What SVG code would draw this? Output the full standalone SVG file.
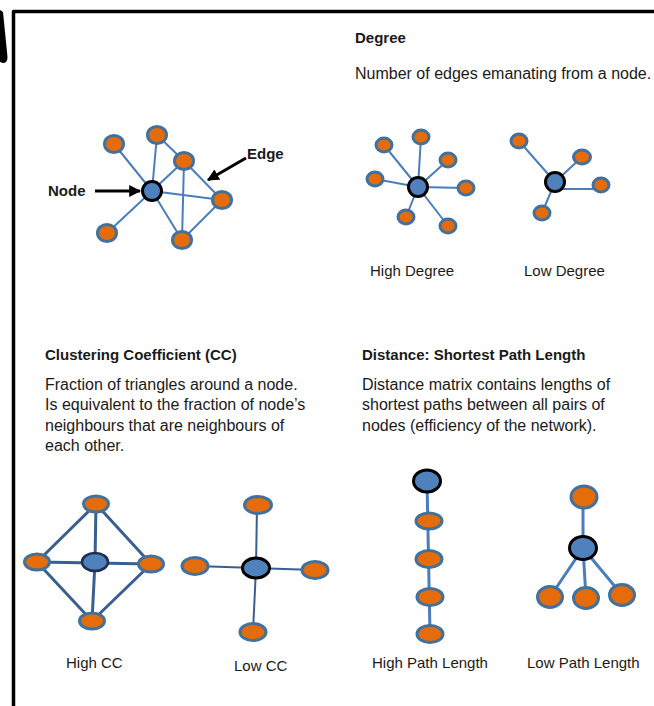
<svg xmlns="http://www.w3.org/2000/svg" width="654" height="706" viewBox="0 0 654 706">
<style>
text{font-family:"Liberation Sans",Arial,sans-serif;font-size:15px;fill:#1a1a1a}
.b{font-weight:bold}
.t{font-size:16px}
.e{stroke:#4a7ebb;stroke-width:2;fill:none}
.ed{stroke:#3a5f8f;stroke-width:3;fill:none}
.et{stroke:#3a5f8f;stroke-width:2;fill:none}
.o{fill:#e46c0a;stroke:#41719c;stroke-width:3}
.c{fill:#4f81bd;stroke:#000;stroke-width:3}
.cd{fill:#4f81bd;stroke:#1f2f4f;stroke-width:2.5}
.arr{stroke:#000;stroke-width:3;fill:none}
</style>
<defs>
<marker id="ah" viewBox="0 0 10 10" refX="9" refY="5" markerUnits="userSpaceOnUse" markerWidth="12" markerHeight="12" orient="auto">
<path d="M0,0 L10,5 L0,10 Z" fill="#000"/>
</marker>
</defs>
<rect width="654" height="706" fill="#fff"/>
<g id="frame">
<path d="M13.5,706 V11.5 H654" fill="none" stroke="#000" stroke-width="3.5" stroke-linejoin="round"/>
<path d="M0,10 L3,12 L7.5,57 Q7.5,63 3,63 L0,62 Z" fill="#000"/>
</g>
<g id="connectors">
<path class="e" d="M152,191 L114,144 M152,191 L157,135 M152,191 L184,161 M152,191 L222,200 M152,191 L182,240 M152,191 L107,233 M157,135 L184,161 M184,161 L222,200 M184,161 L182,240 M222,200 L182,240"/>
<line class="arr" x1="95" y1="191" x2="140" y2="191" marker-end="url(#ah)"/>
<line class="arr" x1="246" y1="158" x2="208" y2="180" marker-end="url(#ah)"/>
<path class="e" d="M418,187 L384,145 M418,187 L421,137 M418,187 L448,160 M418,187 L466,188 M418,187 L448,226 M418,187 L406,217 M418,187 L375,179"/>
<path class="e" d="M555,182 L519,141 M555,182 L582,157 M557,189 L601,189 M555,182 L542,213"/>
<path class="ed" d="M96,504 L37,562 M96,504 L95,562 M96,504 L151,564 M37,562 L151,564 M37,562 L92,621 M95,562 L92,621 M151,564 L92,621"/>
<path class="et" d="M257,505 L256,568 M195,566 L315,570 M256,568 L253,632"/>
<path class="e" style="stroke-width:3" d="M427,481 L430,634"/>
<path class="e" style="stroke-width:3" d="M583,498 L583,548 L550,597 M583,548 L586,598 M583,548 L622,595"/>
</g>
<g id="example-graph">
<ellipse class="o" cx="114" cy="144" rx="9.5" ry="8.5"/>
<ellipse class="o" cx="157" cy="135" rx="9.5" ry="8.5"/>
<ellipse class="o" cx="184" cy="161" rx="9.5" ry="8.5"/>
<ellipse class="o" cx="222" cy="200" rx="9.5" ry="8.5"/>
<ellipse class="o" cx="182" cy="240" rx="9.5" ry="8.5"/>
<ellipse class="o" cx="107" cy="233" rx="9.5" ry="8.5"/>
<circle class="c" cx="152" cy="191" r="9.5"/>
<text class="b" x="48" y="196">Node</text>
<text class="b" x="247" y="159">Edge</text>
</g>
<g id="degree-text">
<text class="b" x="355" y="43">Degree</text>
<text class="t" x="355" y="79">Number  of edges emanating from a node.</text>
</g>
<g id="high-degree">
<ellipse class="o" cx="384" cy="145" rx="8" ry="7"/>
<ellipse class="o" cx="421" cy="137" rx="8" ry="7"/>
<ellipse class="o" cx="448" cy="160" rx="8" ry="7"/>
<ellipse class="o" cx="466" cy="188" rx="8" ry="7"/>
<ellipse class="o" cx="448" cy="226" rx="8" ry="7"/>
<ellipse class="o" cx="406" cy="217" rx="8" ry="7"/>
<ellipse class="o" cx="375" cy="179" rx="8" ry="7"/>
<circle class="c" cx="418" cy="187" r="9.5"/>
<text x="370" y="276">High Degree</text>
</g>
<g id="low-degree">
<ellipse class="o" cx="519" cy="141" rx="8" ry="7"/>
<ellipse class="o" cx="582" cy="157" rx="8.5" ry="7"/>
<ellipse class="o" cx="601" cy="185" rx="8" ry="7"/>
<ellipse class="o" cx="542" cy="213" rx="8" ry="7"/>
<circle class="c" cx="555" cy="182" r="9.5"/>
<text x="524" y="276">Low Degree</text>
</g>
<g id="cc-text">
<text class="b" x="45" y="360">Clustering Coefficient (CC)</text>
<text class="t" x="45" y="390">Fraction of triangles around a node.</text>
<text class="t" x="45" y="410">Is equivalent to the  fraction of node’s</text>
<text class="t" x="45" y="431">neighbours that are neighbours of</text>
<text class="t" x="45" y="451">each other.</text>
</g>
<g id="distance-text">
<text class="b" x="362" y="360">Distance: Shortest Path Length</text>
<text class="t" x="362" y="390">Distance matrix contains lengths of</text>
<text class="t" x="362" y="410">shortest paths between  all pairs of</text>
<text class="t" x="362" y="431">nodes (efficiency of the  network).</text>
</g>
<g id="high-cc">
<ellipse class="o" cx="96" cy="504" rx="12.5" ry="8"/>
<ellipse class="o" cx="37" cy="562" rx="12.5" ry="8"/>
<ellipse class="o" cx="151" cy="564" rx="12.5" ry="8"/>
<ellipse class="o" cx="92" cy="621" rx="12.5" ry="8"/>
<ellipse class="cd" cx="95" cy="562" rx="13" ry="9"/>
<text x="66" y="668">High CC</text>
</g>
<g id="low-cc">
<ellipse class="o" cx="258" cy="505" rx="13.5" ry="8.5"/>
<ellipse class="o" cx="195" cy="566" rx="13" ry="8.5"/>
<ellipse class="o" cx="315" cy="570" rx="13" ry="8.5"/>
<ellipse class="o" cx="253" cy="632" rx="13" ry="8.5"/>
<ellipse class="c" cx="256" cy="568" rx="13.5" ry="10"/>
<text x="234" y="671">Low CC</text>
</g>
<g id="high-path">
<ellipse class="c" cx="427" cy="481" rx="13.5" ry="11"/>
<ellipse class="o" cx="429" cy="521" rx="13" ry="8"/>
<ellipse class="o" cx="429" cy="559" rx="13" ry="8.5"/>
<ellipse class="o" cx="430" cy="597" rx="13" ry="8.5"/>
<ellipse class="o" cx="430" cy="634" rx="13" ry="8.5"/>
<text x="372" y="668">High Path Length</text>
</g>
<g id="low-path">
<ellipse class="o" cx="584" cy="497" rx="13" ry="11"/>
<ellipse class="c" cx="583" cy="548" rx="13.5" ry="11.5"/>
<ellipse class="o" cx="550" cy="597" rx="12.5" ry="10.5"/>
<ellipse class="o" cx="586" cy="598" rx="12.5" ry="10.5"/>
<ellipse class="o" cx="622" cy="595" rx="12.5" ry="10.5"/>
<text x="527" y="668">Low Path Length</text>
</g>
</svg>
